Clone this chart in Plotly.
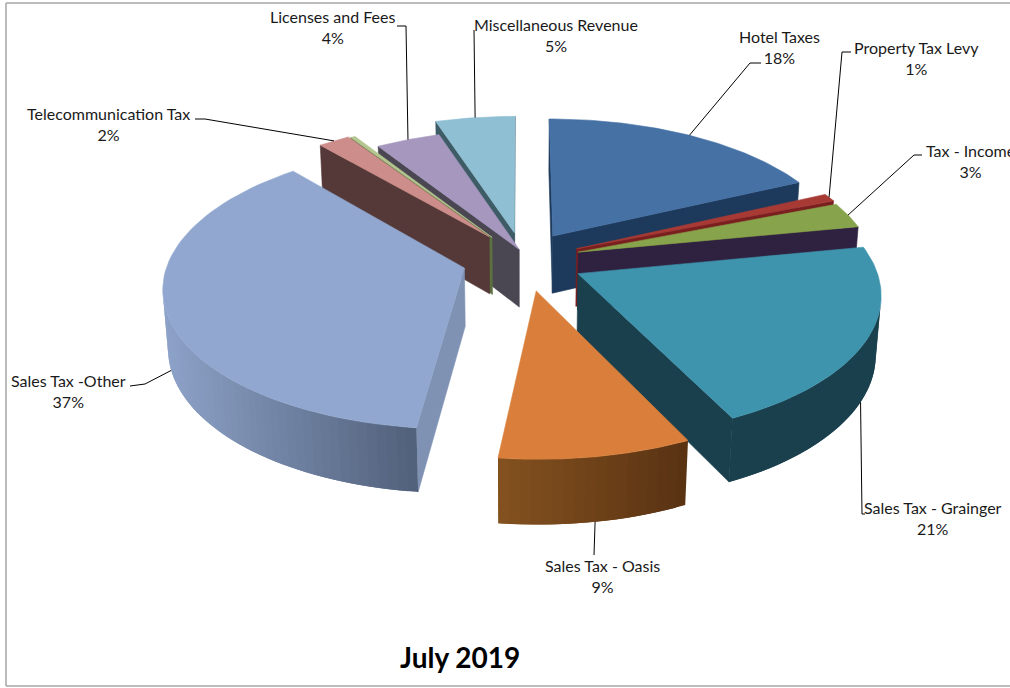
import math
import plotly.graph_objects as go

# Revenue shares, clockwise from twelve o'clock
categories = ["Hotel Taxes", "Property Tax Levy", "Tax - Income", "Sales Tax - Grainger",
              "Sales Tax - Oasis", "Sales Tax -Other", "Telecommunication Tax", "",
              "Licenses and Fees", "Miscellaneous Revenue"]
shares = [18, 1, 3, 21, 9, 37, 2, 0.3, 4, 5]
pct_labels = ["18%", "1%", "3%", "21%", "9%", "37%", "2%", "", "4%", "5%"]

# Slice displacement in the pie plane, in units of the radius
explode_x = [0.11, 0.19, 0.195, 0.19, 0.05, -0.19, -0.11, -0.10, -0.006, -0.023]
explode_y = [0.235, 0.14, 0.115, -0.04, -0.16, 0.0, 0.23, 0.225, 0.135, 0.26]

top_colors = ["#4571a5", "#a83a35", "#87a34b", "#3f94ad", "#d97f3b",
              "#91a7cf", "#cd8d8a", "#b4c690", "#a697bf", "#8fbfd3"]
side_colors = ["#1d3a5c", "#7a1f1f", "#2f2240", "#1a3f4d", "#6d421c",
               "#7f92b4", "#553838", "#5c7040", "#4a4652", "#3e5c66"]
wall_left = ["#1d3a5c", "#7a1f1f", "#2f2240", "#1a3f4d", "#84521f",
             "#8da2c8", "#553838", "#5c7040", "#4a4652", "#3e5c66"]
wall_right = ["#1d3a5c", "#7a1f1f", "#2f2240", "#1a404e", "#593213",
              "#505f79", "#553838", "#5c7040", "#4a4652", "#3e5c66"]
draw_order = [0, 9, 8, 7, 6, 1, 2, 5, 3, 4]

# Camera and pie proportions
CX, CY, RADIUS = 521, 268, 298
SIN_E, COS_E = 0.47, 0.883
PERSP = 0.13
THICK = 0.225


def project(x, y, z):
    s = 1 / (1 + PERSP * (y - z * 0.5))
    return CX + RADIUS * x * s, CY - RADIUS * (y * SIN_E + z * COS_E) * s


def hex_mix(a, b, t):
    ca = [int(a[i:i + 2], 16) for i in (1, 3, 5)]
    cb = [int(b[i:i + 2], 16) for i in (1, 3, 5)]
    return "#" + "".join(f"{round(p + (q - p) * t):02x}" for p, q in zip(ca, cb))


def polygon(points, color, edge=0.6):
    xs = [p[0] for p in points] + [points[0][0]]
    ys = [p[1] for p in points] + [points[0][1]]
    return go.Scatter(x=xs, y=ys, mode="lines", fill="toself", fillcolor=color,
                      line=dict(color=color, width=edge), hoverinfo="skip")


def signed_area(points):
    return sum(points[i][0] * points[(i + 1) % len(points)][1]
               - points[(i + 1) % len(points)][0] * points[i][1]
               for i in range(len(points)))


total = sum(shares)
spans = []
running = 0.0
for value in shares:
    a0 = running / total * 2 * math.pi
    running += value
    spans.append((a0, running / total * 2 * math.pi))


def on_rim(i, angle, z):
    return project(explode_x[i] + math.sin(angle), explode_y[i] + math.cos(angle), z)


fig = go.Figure()
for i in draw_order:
    a0, a1 = spans[i]
    ex, ey = explode_x[i], explode_y[i]
    tip_top = project(ex, ey, 0)
    tip_low = project(ex, ey, -THICK)

    # Radial cut faces, kept only when they turn toward the camera
    for angle, sign in ((a0, -1), (a1, 1)):
        face = [tip_top, on_rim(i, angle, 0), on_rim(i, angle, -THICK), tip_low]
        if signed_area(face) * sign > 0:
            fig.add_trace(polygon(face, side_colors[i]))

    # Curved outer wall: each strip overlaps the next so that no seam shows between them
    steps = max(3, int((a1 - a0) / 0.03))
    for k in range(steps):
        b0 = a0 + (a1 - a0) * k / steps
        b1 = a0 + (a1 - a0) * (k + 1) / steps
        strip = [on_rim(i, b0, 0), on_rim(i, b1, 0), on_rim(i, b1, -THICK), on_rim(i, b0, -THICK)]
        if signed_area(strip) < 0:
            sx = (strip[0][0] + strip[1][0]) / 2
            x_lo = project(ex - 1, ey, 0)[0]
            x_hi = project(ex + 1, ey, 0)[0]
            t = (sx - x_lo) / (x_hi - x_lo)
            if i == 5:
                t = min(1, max(0, (sx - 165) / 255))
            elif i == 4:
                t = min(1, max(0, (sx - 497) / 192))
            b_far = min(a1, b1 + (a1 - a0) / steps)
            wide = [on_rim(i, b0, 0), on_rim(i, b_far, 0), on_rim(i, b_far, -THICK), on_rim(i, b0, -THICK)]
            fig.add_trace(polygon(wide, hex_mix(wall_left[i], wall_right[i], t), edge=0))

    # Top surface
    arc = [on_rim(i, a0 + (a1 - a0) * k / 60, 0) for k in range(61)]
    fig.add_trace(polygon([tip_top] + arc, top_colors[i]))

# Data labels: text centre and the elbow run from text to slice
label_pos = {0: (779, 47), 1: (916, 58), 2: (970, 161), 3: (933, 518), 4: (602, 576),
             5: (68, 391), 6: (108, 124), 8: (333, 27), 9: (556, 35)}
elbows = {0: [(761, 63), (750, 63)], 1: [(851, 52), (842, 52)], 2: [(922, 155), (914, 155)],
          3: [(865, 514), (862, 514)], 4: [(594, 555)], 5: [(130, 386), (145, 384)],
          6: [(195, 119), (205, 119)], 8: [(397, 26), (406, 26)], 9: [(474, 30)]}
attach_z = {0: 0, 1: 0, 2: 0, 3: -THICK, 4: -THICK, 5: -THICK, 6: 0, 8: 0, 9: 0}

for i, (lx, ly) in label_pos.items():
    a0, a1 = spans[i]
    end = on_rim(i, (a0 + a1) / 2, attach_z[i])
    run = elbows[i] + [end]
    fig.add_trace(go.Scatter(x=[p[0] for p in run], y=[p[1] for p in run], mode="lines",
                             line=dict(color="#000000", width=1), hoverinfo="skip"))
    fig.add_annotation(x=lx, y=ly, xref="x", yref="y", showarrow=False, align="center",
                       text=f"{categories[i]}<br>{pct_labels[i]}",
                       font=dict(family="Lato", size=16, color="#1a1a1a"))

fig.add_annotation(x=460, y=657, xref="x", yref="y", showarrow=False, text="<b>July 2019</b>",
                   font=dict(family="Lato", size=28, color="#000000"))

# Chart frame; its right side runs off the page
frame = dict(type="line", xref="x", yref="y", line=dict(color="#a6a6a6", width=1.5))
fig.add_shape(x0=6, x1=1012, y0=3, y1=3, **frame)
fig.add_shape(x0=6, x1=6, y0=3, y1=686, **frame)
fig.add_shape(x0=6, x1=1012, y0=686, y1=686, **frame)

fig.update_layout(width=1010, height=688, margin=dict(l=0, r=0, t=0, b=0),
                  paper_bgcolor="white", plot_bgcolor="white", showlegend=False,
                  xaxis=dict(range=[0, 1010], visible=False, fixedrange=True),
                  yaxis=dict(range=[688, 0], visible=False, fixedrange=True))
fig.write_html("out.html", config=dict(displayModeBar=False))
